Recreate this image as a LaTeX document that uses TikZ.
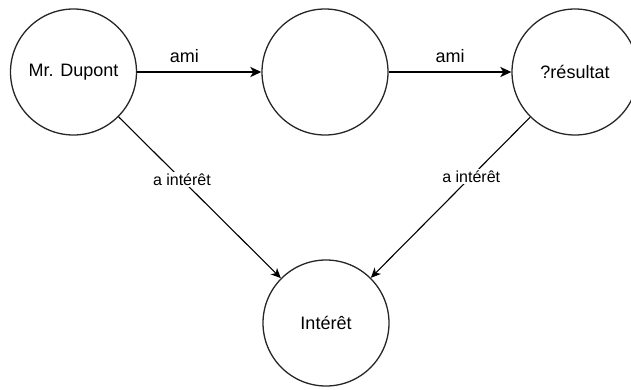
\documentclass[tikz,border=0pt]{standalone}
\usepackage{fontspec}
\setmainfont{Liberation Sans}
\usetikzlibrary{arrows.meta}
\begin{document}
\begin{tikzpicture}[x=1pt,y=-1pt,
  ent/.style={circle,draw=black!85,line width=1.3pt,minimum size=126pt,inner sep=0pt,font=\fontsize{18}{20}\selectfont},
  amiarrow/.style={line width=2pt,-{Stealth[length=11pt,width=10pt,inset=3pt]}},
  intarrow/.style={line width=1.1pt,-{Stealth[length=10pt,width=9pt,inset=3pt]}},
  lblami/.style={font=\fontsize{18}{20}\selectfont,inner sep=0pt},
  lblint/.style={font=\fontsize{16}{18}\selectfont,fill=white,inner sep=1.5pt}]
\useasboundingbox (0,0) rectangle (631,389);
\node[ent] (dupont) at (73.5,72) {Mr. Dupont};
\node[ent] (mid) at (325,72) {};
\node[ent] (res) at (575,72) {?résultat};
\node[ent] (int) at (326,323) {Intérêt};
\draw[amiarrow] (dupont) -- node[lblami,pos=0.38,above=8pt] {ami} (mid);
\draw[amiarrow] (mid) -- node[lblami,pos=0.5,above=8pt] {ami} (res);
\draw[intarrow] (dupont) -- node[lblint,pos=0.39] {a intérêt} (int);
\draw[intarrow] (res) -- node[lblint,pos=0.37] {a intérêt} (int);
\end{tikzpicture}
\end{document}
